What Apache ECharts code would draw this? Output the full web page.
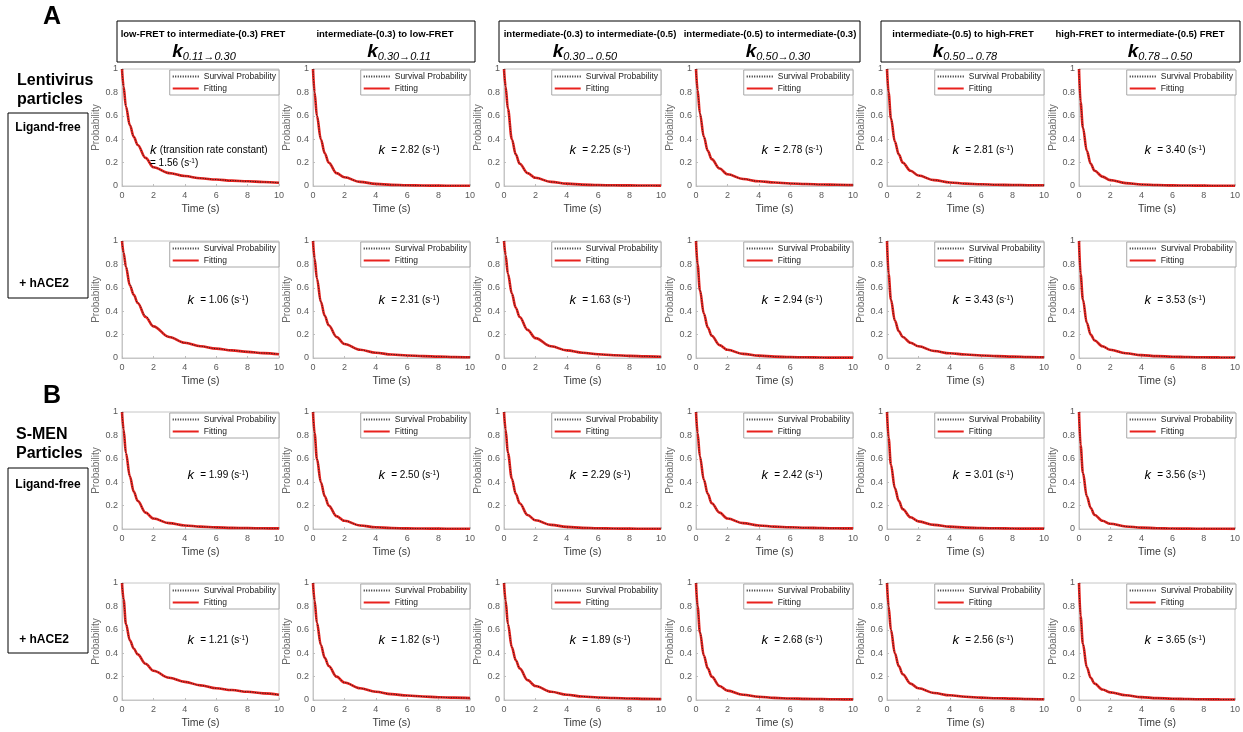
<!DOCTYPE html>
<html><head><meta charset="utf-8">
<script src="https://cdn.jsdelivr.net/npm/echarts@6/dist/echarts.min.js"></script>
<style>html,body{margin:0;padding:0;background:#fff}#c{width:1243px;height:732px}</style>
</head><body><div id="c"></div>
<script>
// ---------- data ----------
const timePoints = [0, 0.1, 0.25, 0.5, 0.75, 1, 1.5, 2, 3, 4, 5, 6, 7, 8, 9, 10];
const xTickValues = [0, 2, 4, 6, 8, 10];
const yTickValues = [0, 0.2, 0.4, 0.6, 0.8, 1];

const transitionNames = [
  'low-FRET to intermediate-(0.3) FRET',
  'intermediate-(0.3) to low-FRET',
  'intermediate-(0.3) to intermediate-(0.5)',
  'intermediate-(0.5) to intermediate-(0.3)',
  'intermediate-(0.5) to high-FRET',
  'high-FRET to intermediate-(0.5) FRET'
];
const transitionSubscripts = ['0.11\u21920.30', '0.30\u21920.11', '0.30\u21920.50', '0.50\u21920.30', '0.50\u21920.78', '0.78\u21920.50'];

const kLentiFree = [1.56, 2.82, 2.25, 2.78, 2.81, 3.40];
const kLentiAce2 = [1.06, 2.31, 1.63, 2.94, 3.43, 3.53];
const kSmenFree  = [1.99, 2.50, 2.29, 2.42, 3.01, 3.56];
const kSmenAce2  = [1.21, 1.82, 1.89, 2.68, 2.56, 3.65];

// fitted curves at timePoints
const fitLentiFree = [
  [1, 0.85, 0.68, 0.52, 0.42, 0.35, 0.24, 0.16, 0.11, 0.085, 0.066, 0.055, 0.046, 0.04, 0.034, 0.028],
  [1, 0.80, 0.60, 0.40, 0.28, 0.20, 0.11, 0.075, 0.035, 0.018, 0.010, 0.006, 0.004, 0.003, 0.002, 0.002],
  [1, 0.85, 0.66, 0.40, 0.27, 0.19, 0.11, 0.07, 0.035, 0.02, 0.012, 0.008, 0.006, 0.005, 0.004, 0.003],
  [1, 0.82, 0.62, 0.42, 0.30, 0.23, 0.15, 0.10, 0.06, 0.04, 0.03, 0.022, 0.017, 0.013, 0.011, 0.009],
  [1, 0.80, 0.58, 0.38, 0.27, 0.20, 0.13, 0.09, 0.05, 0.03, 0.02, 0.015, 0.011, 0.009, 0.007, 0.006],
  [1, 0.72, 0.50, 0.30, 0.19, 0.13, 0.08, 0.05, 0.025, 0.013, 0.008, 0.005, 0.004, 0.003, 0.002, 0.002]
];
const fitLentiAce2 = [
  [1, 0.90, 0.78, 0.62, 0.54, 0.47, 0.35, 0.27, 0.18, 0.13, 0.10, 0.08, 0.065, 0.052, 0.042, 0.032],
  [1, 0.85, 0.68, 0.48, 0.36, 0.28, 0.18, 0.12, 0.07, 0.045, 0.03, 0.022, 0.016, 0.012, 0.009, 0.007],
  [1, 0.88, 0.72, 0.55, 0.43, 0.35, 0.24, 0.17, 0.10, 0.065, 0.045, 0.032, 0.024, 0.018, 0.014, 0.011],
  [1, 0.80, 0.58, 0.38, 0.26, 0.19, 0.11, 0.07, 0.035, 0.02, 0.012, 0.008, 0.006, 0.004, 0.003, 0.003],
  [1, 0.72, 0.50, 0.32, 0.23, 0.18, 0.13, 0.10, 0.06, 0.04, 0.03, 0.022, 0.016, 0.012, 0.009, 0.007],
  [1, 0.72, 0.50, 0.30, 0.20, 0.15, 0.10, 0.07, 0.04, 0.025, 0.016, 0.011, 0.008, 0.006, 0.005, 0.004]
];
const fitSmenFree = [
  [1, 0.85, 0.65, 0.45, 0.32, 0.24, 0.14, 0.09, 0.05, 0.03, 0.02, 0.014, 0.01, 0.008, 0.006, 0.005],
  [1, 0.82, 0.60, 0.40, 0.28, 0.20, 0.11, 0.07, 0.03, 0.015, 0.008, 0.005, 0.004, 0.003, 0.002, 0.002],
  [1, 0.85, 0.65, 0.43, 0.30, 0.22, 0.12, 0.075, 0.035, 0.018, 0.01, 0.006, 0.004, 0.003, 0.002, 0.002],
  [1, 0.82, 0.62, 0.42, 0.30, 0.22, 0.14, 0.09, 0.05, 0.03, 0.02, 0.015, 0.011, 0.008, 0.006, 0.005],
  [1, 0.78, 0.55, 0.35, 0.24, 0.17, 0.10, 0.065, 0.035, 0.02, 0.012, 0.008, 0.006, 0.004, 0.003, 0.003],
  [1, 0.72, 0.48, 0.28, 0.18, 0.12, 0.07, 0.045, 0.022, 0.012, 0.007, 0.004, 0.003, 0.002, 0.002, 0.001]
];
const fitSmenAce2 = [
  [1, 0.86, 0.65, 0.51, 0.44, 0.39, 0.31, 0.25, 0.19, 0.155, 0.125, 0.10, 0.085, 0.07, 0.057, 0.045],
  [1, 0.85, 0.66, 0.47, 0.36, 0.29, 0.20, 0.15, 0.10, 0.07, 0.05, 0.038, 0.03, 0.024, 0.02, 0.016],
  [1, 0.85, 0.65, 0.45, 0.34, 0.27, 0.17, 0.12, 0.07, 0.045, 0.03, 0.022, 0.017, 0.013, 0.01, 0.008],
  [1, 0.80, 0.58, 0.38, 0.27, 0.20, 0.12, 0.08, 0.045, 0.028, 0.018, 0.013, 0.01, 0.008, 0.006, 0.005],
  [1, 0.80, 0.60, 0.40, 0.29, 0.22, 0.14, 0.10, 0.06, 0.04, 0.028, 0.02, 0.015, 0.012, 0.009, 0.007],
  [1, 0.72, 0.48, 0.28, 0.19, 0.14, 0.09, 0.065, 0.04, 0.025, 0.016, 0.011, 0.008, 0.006, 0.005, 0.004]
];
const survLentiFree = [
  [1, 0.85, 0.68, 0.52, 0.42, 0.35, 0.24, 0.16, 0.11, 0.085, 0.066, 0.055, 0.046, 0.04, 0.034, 0.028],
  [1, 0.80, 0.60, 0.40, 0.28, 0.20, 0.11, 0.075, 0.035, 0.018, 0.010, 0.006, 0.004, 0.003, 0.002, 0.002],
  [1, 0.85, 0.66, 0.40, 0.27, 0.19, 0.11, 0.07, 0.035, 0.02, 0.012, 0.008, 0.006, 0.005, 0.004, 0.003],
  [1, 0.82, 0.62, 0.42, 0.30, 0.23, 0.15, 0.10, 0.06, 0.04, 0.03, 0.022, 0.017, 0.013, 0.011, 0.009],
  [1, 0.80, 0.58, 0.38, 0.27, 0.20, 0.13, 0.09, 0.05, 0.03, 0.02, 0.015, 0.011, 0.009, 0.007, 0.006],
  [1, 0.72, 0.50, 0.30, 0.19, 0.13, 0.08, 0.05, 0.025, 0.013, 0.008, 0.005, 0.004, 0.003, 0.002, 0.002]
];
const survLentiAce2 = [
  [1, 0.90, 0.78, 0.63, 0.54, 0.47, 0.36, 0.27, 0.18, 0.13, 0.10, 0.08, 0.066, 0.053, 0.042, 0.033],
  [1, 0.85, 0.68, 0.48, 0.36, 0.28, 0.18, 0.12, 0.07, 0.045, 0.03, 0.022, 0.016, 0.012, 0.009, 0.007],
  [1, 0.88, 0.72, 0.55, 0.43, 0.35, 0.24, 0.17, 0.10, 0.065, 0.045, 0.032, 0.024, 0.018, 0.014, 0.011],
  [1, 0.80, 0.58, 0.38, 0.26, 0.19, 0.11, 0.07, 0.035, 0.02, 0.012, 0.008, 0.006, 0.004, 0.003, 0.003],
  [1, 0.72, 0.50, 0.32, 0.23, 0.18, 0.13, 0.10, 0.06, 0.04, 0.03, 0.022, 0.016, 0.012, 0.009, 0.007],
  [1, 0.72, 0.50, 0.30, 0.20, 0.15, 0.10, 0.07, 0.04, 0.025, 0.016, 0.011, 0.008, 0.006, 0.005, 0.004]
];
const survSmenFree = [
  [1, 0.85, 0.65, 0.45, 0.32, 0.24, 0.14, 0.09, 0.05, 0.03, 0.02, 0.014, 0.01, 0.008, 0.006, 0.005],
  [1, 0.82, 0.60, 0.40, 0.28, 0.20, 0.11, 0.07, 0.03, 0.015, 0.008, 0.005, 0.004, 0.003, 0.002, 0.002],
  [1, 0.85, 0.65, 0.43, 0.30, 0.22, 0.12, 0.075, 0.035, 0.018, 0.01, 0.006, 0.004, 0.003, 0.002, 0.002],
  [1, 0.82, 0.62, 0.42, 0.30, 0.22, 0.14, 0.09, 0.05, 0.03, 0.02, 0.015, 0.011, 0.008, 0.006, 0.005],
  [1, 0.78, 0.55, 0.35, 0.24, 0.17, 0.10, 0.065, 0.035, 0.02, 0.012, 0.008, 0.006, 0.004, 0.003, 0.003],
  [1, 0.72, 0.48, 0.28, 0.18, 0.12, 0.07, 0.045, 0.022, 0.012, 0.007, 0.004, 0.003, 0.002, 0.002, 0.001]
];
const survSmenAce2 = [
  [1, 0.86, 0.65, 0.51, 0.44, 0.39, 0.31, 0.25, 0.19, 0.155, 0.125, 0.10, 0.085, 0.07, 0.058, 0.043],
  [1, 0.85, 0.66, 0.47, 0.36, 0.29, 0.20, 0.15, 0.10, 0.07, 0.05, 0.038, 0.03, 0.024, 0.02, 0.016],
  [1, 0.85, 0.65, 0.45, 0.34, 0.27, 0.17, 0.12, 0.07, 0.045, 0.03, 0.022, 0.017, 0.013, 0.01, 0.008],
  [1, 0.80, 0.58, 0.38, 0.27, 0.20, 0.12, 0.08, 0.045, 0.028, 0.018, 0.013, 0.01, 0.008, 0.006, 0.005],
  [1, 0.80, 0.60, 0.40, 0.29, 0.22, 0.14, 0.10, 0.06, 0.04, 0.028, 0.02, 0.015, 0.012, 0.009, 0.007],
  [1, 0.72, 0.48, 0.28, 0.19, 0.14, 0.09, 0.065, 0.04, 0.025, 0.016, 0.011, 0.008, 0.006, 0.005, 0.004]
];

// ---------- layout ----------
const W = 1243;
const FONT = 'Liberation Sans, Arial, Helvetica, sans-serif';
const COL_LEFT = [122, 313, 504, 696, 887, 1079];
const ROW_TOP = [69, 241, 412, 583];
const PW = 157, PH = 117;
const K_LABEL_DY = [81, 59, 63, 57];
const K_LABEL_DX = 96;
const RED = '#e8221e';

const rowsFit = [fitLentiFree, fitLentiAce2, fitSmenFree, fitSmenAce2];
const rowsSurv = [survLentiFree, survLentiAce2, survSmenFree, survSmenAce2];
const rowsK = [kLentiFree, kLentiAce2, kSmenFree, kSmenAce2];

const grids = [], xAxes = [], yAxes = [], series = [], legends = [], graphics = [];

const kRich = {
  i: {fontFamily: FONT, fontSize: 13, fontStyle: 'italic', color: '#111', lineHeight: 13},
  n: {fontFamily: FONT, fontSize: 10, color: '#111', lineHeight: 13},
  s: {fontFamily: FONT, fontSize: 6.5, color: '#111', lineHeight: 13, verticalAlign: 'top', padding: [1, 0, 0, 0]}
};

for (let r = 0; r < 4; r++) {
  for (let c = 0; c < 6; c++) {
    const idx = r * 6 + c;
    const left = COL_LEFT[c], top = ROW_TOP[r];
    grids.push({left: left, top: top, width: PW, height: PH, show: true,
      borderColor: '#c6c6c6', borderWidth: 1, backgroundColor: '#fff', containLabel: false});
    xAxes.push({gridIndex: idx, type: 'value', min: 0, max: 10, interval: 2,
      name: 'Time (s)', nameLocation: 'middle', nameGap: 18,
      nameTextStyle: {fontFamily: FONT, fontSize: 10.5, color: '#3a3a3a'},
      axisLine: {show: true, lineStyle: {color: '#c6c6c6'}},
      axisTick: {show: true, inside: true, length: 2, lineStyle: {color: '#bdbdbd'}},
      axisLabel: {fontFamily: FONT, fontSize: 9, color: '#5a5a5a', margin: 5},
      splitLine: {show: false}});
    yAxes.push({gridIndex: idx, type: 'value', min: 0, max: 1, interval: 0.2,
      name: 'Probability', nameLocation: 'middle', nameGap: 15, nameRotate: 90,
      nameTextStyle: {fontFamily: FONT, fontSize: 10, color: '#6a6a6a'},
      axisLine: {show: true, lineStyle: {color: '#c6c6c6'}},
      axisTick: {show: true, inside: true, length: 2, lineStyle: {color: '#bdbdbd'}},
      axisLabel: {fontFamily: FONT, fontSize: 9, color: '#5a5a5a', margin: 4},
      splitLine: {show: false}});
    const fit = rowsFit[r][c], surv = rowsSurv[r][c];
    series.push({type: 'line', name: 'Fitting', xAxisIndex: idx, yAxisIndex: idx,
      data: timePoints.map((t, j) => [t, fit[j]]),
      smooth: 0.35, smoothMonotone: 'x', symbol: 'none', showSymbol: false,
      lineStyle: {color: RED, width: 2.6}, itemStyle: {color: RED}, z: 2, animation: false});
    series.push({type: 'line', name: 'Survival Probability', xAxisIndex: idx, yAxisIndex: idx,
      data: timePoints.map((t, j) => [t, surv[j]]),
      smooth: 0.35, smoothMonotone: 'x', symbol: 'none', showSymbol: false,
      lineStyle: {color: '#222', width: 1, type: [1, 1.5]}, itemStyle: {color: '#222'}, z: 3, animation: false});
    legends.push({data: ['Survival Probability', 'Fitting'], orient: 'vertical',
      right: W - (left + PW), top: top + 1, itemWidth: 26, itemHeight: 8, itemGap: 3,
      padding: [2, 3, 2, 2], borderColor: '#a8a8a8', borderWidth: 1, backgroundColor: '#fff',
      itemStyle: {opacity: 0},
      selectedMode: false, textStyle: {fontFamily: FONT, fontSize: 8.5, color: '#222'}});
    const kv = rowsK[r][c].toFixed(2);
    if (r === 0 && c === 0) {
      graphics.push({type: 'text', left: 150, top: top + 75, z: 10,
        style: {text: '{i|k} {n|(transition rate constant)}\n{n|= ' + kv + ' (s}{s|-1}{n|)}', rich: kRich}});
    } else {
      graphics.push({type: 'text', x: left + K_LABEL_DX, y: top + K_LABEL_DY[r], z: 10,
        style: {text: '{i|k} {n| = ' + kv + ' (s}{s|-1}{n|)}', rich: kRich, align: 'center', verticalAlign: 'middle'}});
    }
  }
}

// header boxes
const headerBoxes = [[117, 21, 358, 41], [499, 21, 361, 41], [881, 21, 359, 41]];
headerBoxes.forEach(b => graphics.push({type: 'rect', shape: {x: b[0], y: b[1], width: b[2], height: b[3]},
  style: {fill: 'none', stroke: '#000', lineWidth: 1}, z: 5}));
const headTextX = [203, 385, 590, 770, 963, 1140];
const headKX = [204, 399, 585, 778, 965, 1160];
for (let c = 0; c < 6; c++) {
  graphics.push({type: 'text', x: headTextX[c], y: 34, z: 6,
    style: {text: transitionNames[c], fontFamily: FONT, fontSize: 9.5, fontWeight: 'bold', fill: '#000', align: 'center', verticalAlign: 'middle'}});
  graphics.push({type: 'text', x: headKX[c], y: 52, z: 6,
    style: {text: '{k|k}{sub|' + transitionSubscripts[c] + '}', align: 'center', verticalAlign: 'middle',
      rich: {
        k: {fontFamily: FONT, fontSize: 19, fontWeight: 'bold', fontStyle: 'italic', color: '#000', lineHeight: 20},
        sub: {fontFamily: FONT, fontSize: 11, fontStyle: 'italic', color: '#333', lineHeight: 20, verticalAlign: 'bottom'}
      }}});
}

// panel letters and row labels
const bigText = (t, x, y, size, align) => ({type: 'text', x: x, y: y, z: 6,
  style: {text: t, fontFamily: FONT, fontSize: size, fontWeight: 'bold', fill: '#000', align: align || 'left', verticalAlign: 'middle'}});
graphics.push(bigText('A', 52, 17, 25, 'center'));
graphics.push(bigText('B', 52, 396, 25, 'center'));
graphics.push(bigText('Lentivirus', 17, 81, 16));
graphics.push(bigText('particles', 17, 100, 16));
graphics.push(bigText('S-MEN', 16, 435, 16));
graphics.push(bigText('Particles', 16, 454, 16));
[[8, 113, 80, 185], [8, 468, 80, 185]].forEach(b => graphics.push({type: 'rect', shape: {x: b[0], y: b[1], width: b[2], height: b[3]},
  style: {fill: 'none', stroke: '#000', lineWidth: 1}, z: 5}));
graphics.push(bigText('Ligand-free', 48, 128, 12, 'center'));
graphics.push(bigText('+ hACE2', 44, 284, 12, 'center'));
graphics.push(bigText('Ligand-free', 48, 485, 12, 'center'));
graphics.push(bigText('+ hACE2', 44, 640, 12, 'center'));

const chart = echarts.init(document.getElementById('c'), null, {renderer: 'canvas'});
chart.setOption({
  animation: false,
  backgroundColor: '#fff',
  grid: grids, xAxis: xAxes, yAxis: yAxes, series: series, legend: legends, graphic: graphics
});
</script></body></html>
